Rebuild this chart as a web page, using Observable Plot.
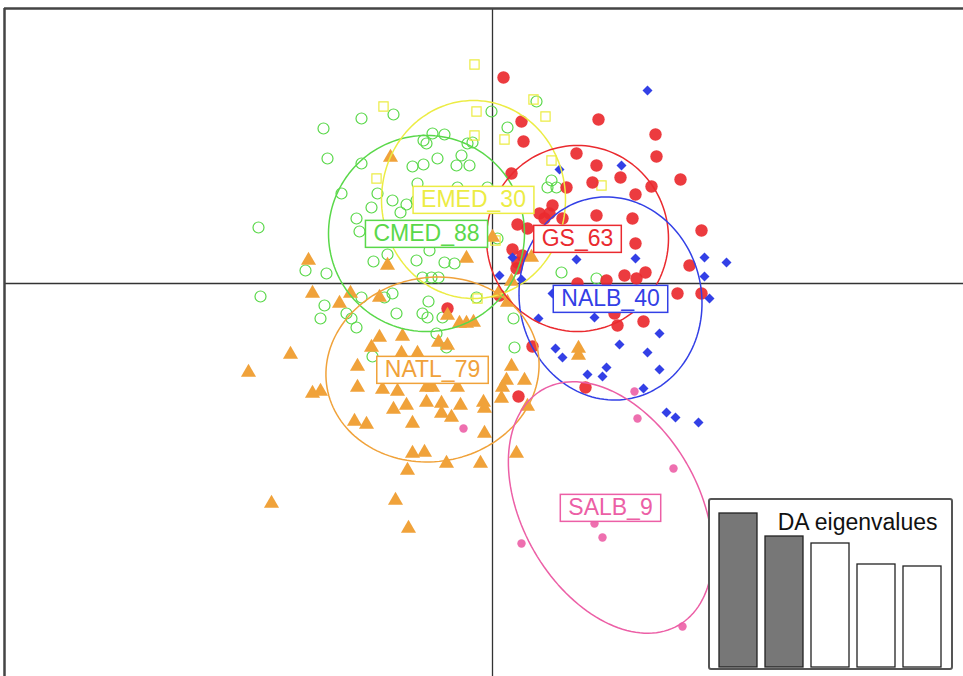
<!DOCTYPE html>
<html><head><meta charset="utf-8">
<script src="https://cdn.jsdelivr.net/npm/d3@7"></script>
<script src="https://cdn.jsdelivr.net/npm/@observablehq/plot@0.6"></script>
<style>
html,body{margin:0;padding:0;background:#fff;}
#wrap{position:relative;width:963px;height:676px;overflow:hidden;font-family:"Liberation Sans",Arial,sans-serif;}
#main svg{display:block;}
#inset{position:absolute;left:708px;top:498px;width:241px;height:168px;border:2px solid #555;border-radius:3px;background:#fff;}
#inset svg{display:block;}
</style></head><body><div id="wrap"><div id="main"></div><div id="inset"></div></div>
<script>
// ---- groups ----
const groups = ["CMED","EMED","GS","NALB","NATL","SALB"];
const groupSizes = [88,30,63,40,79,9];
const groupColors = ["#5ad84a","#ecec44","#ea2a2f","#3340e6","#f0a23a","#ec5fa6"];

// ---- DA scores (LD1, LD2) ----
const cmedX = [-1.31,-0.99,-1.69,-0.01,-1.65,-1.31,-0.69,-0.60,-0.48,-0.66,-0.31,-0.25,-0.20,-0.55,-0.80,-0.69,-0.36,-0.23,-1.51,-1.15,-1.00,-0.92,-0.86,-1.21,-1.36,-1.33,-0.75,-0.35,-0.05,-2.34,-1.87,-1.66,-1.19,-1.05,-0.76,-0.48,-0.38,-0.63,-0.54,-0.70,0.44,0.15,0.59,0.64,0.69,1.04,0.05,-2.32,-1.68,-1.72,-1.46,-1.41,-1.36,-1.31,-1.08,-1.00,-0.96,-0.70,-0.65,-0.64,-0.50,-0.56,-1.20,-0.46,-0.16,-0.76,-0.61,0.21,0.22,0.55];
const cmedY = [1.65,1.69,1.55,1.72,1.25,1.20,1.43,1.50,1.49,1.40,1.28,1.40,1.41,1.25,1.17,1.19,1.18,1.18,0.90,0.90,0.83,0.71,0.79,0.76,0.65,0.52,1.00,0.96,0.96,0.56,0.13,0.10,0.22,0.29,0.23,0.21,0.20,0.33,0.06,0.06,1.82,1.56,1.03,0.96,0.11,0.05,0.45,-0.13,-0.22,-0.35,-0.30,-0.35,-0.44,-0.14,-0.14,-0.10,-0.30,-0.30,-0.34,-0.18,-0.34,-0.50,-0.73,-0.64,-0.14,0.83,0.06,-0.35,-0.64,0.96];
const emedX = [-0.18,-1.09,-0.16,-0.18,-1.16,0.53,0.12,0.59,1.09,0.41,-0.15,0.03,-0.01];
const emedY = [2.19,1.77,1.72,1.48,1.05,1.67,1.44,1.23,0.98,1.84,-0.15,0.43,0.76];
const gsX = [0.11,0.29,1.06,0.31,1.63,0.84,1.64,1.04,0.19,1.28,1.00,1.88,0.74,1.59,1.43,0.60,0.47,0.57,0.70,1.04,1.40,0.25,0.35,2.09,1.43,0.20,0.25,0.30,1.97,1.32,1.44,1.53,0.85,1.14,1.85,2.09,1.51,1.25,0.40,0.93,0.26,1.22,-0.45,0.07,0.24,0.52];
const gsY = [2.06,1.62,1.64,1.42,1.49,1.30,1.27,1.18,1.10,1.06,1.01,1.04,0.96,0.97,0.89,0.78,0.70,0.70,0.65,0.68,0.65,0.59,0.55,0.53,0.40,0.34,0.21,0.28,0.18,0.08,0.05,0.11,0.00,0.03,-0.10,-0.10,-0.38,-0.42,-0.63,-1.04,-1.13,-0.30,-0.25,-0.12,0.15,0.65];
const nalbX = [1.55,0.67,1.29,0.84,1.43,2.12,2.34,2.12,0.07,0.29,2.17,0.46,1.02,1.67,1.27,1.55,0.63,0.70,1.14,0.95,1.10,1.67,1.51,1.74,1.83,2.06,0.60,0.20];
const nalbY = [1.93,1.14,1.18,0.24,0.25,0.26,0.21,0.07,0.08,0.04,-0.15,-0.35,-0.34,-0.50,-0.61,-0.69,-0.65,-0.74,-0.84,-0.91,-0.93,-0.86,-1.05,-1.29,-1.34,-1.39,-0.10,0.26];
const natlX = [-1.02,-1.84,-1.05,-0.26,0.00,-1.80,-1.42,-1.53,-2.02,-2.44,-1.13,-0.90,-1.21,-1.35,-1.35,-0.91,-0.75,-1.80,-1.72,-1.10,-0.95,-0.66,-0.60,-0.35,-0.99,-0.86,-0.66,-0.51,-0.32,-0.09,-0.08,-0.51,-0.41,-1.38,-1.26,-0.80,-0.08,-0.80,-0.68,-0.46,-0.12,-0.85,-2.21,-0.97,-0.84,-0.54,-0.45,-0.33,-0.26,-0.19,0.10,0.09,0.06,-1.13,0.19,0.15,-0.45,0.86,0.86,0.19,0.14,0.32,0.35,0.24,0.39];
const natlY = [1.26,0.23,0.18,0.25,0.46,-0.10,-0.10,-0.20,-0.71,-0.89,-0.54,-0.53,-0.64,-0.83,-1.04,-0.70,-0.70,-1.10,-1.08,-1.06,-1.08,-1.04,-1.04,-1.04,-1.26,-1.22,-1.19,-1.20,-1.22,-1.19,-1.25,-1.30,-1.34,-1.38,-1.41,-1.40,-1.50,-1.70,-1.69,-1.80,-1.80,-1.87,-2.20,-2.17,-2.45,-0.59,-0.62,-0.40,-0.40,-0.39,-1.04,-1.15,-0.10,-0.14,0.02,-0.19,-0.32,-0.65,-0.72,-0.83,-0.97,-0.97,-1.23,-1.70,0.26];
const salbX = [-0.29,1.42,1.45,1.81,1.02,1.10,0.29,1.90,0.99];
const salbY = [-1.45,-1.08,-1.35,-1.85,-2.40,-2.54,-2.60,-3.43,-2.25];

// ---- inertia ellipses (centre, semi-axes, angle in degrees) ----
const ellCx = [-0.66,-0.19,0.85,1.18,-0.60,1.18];
const ellCy = [0.50,0.84,0.45,-0.15,-0.86,-2.24];
const ellA = [0.98,0.99,0.93,1.02,1.07,1.36];
const ellB = [0.98,0.92,0.91,0.91,0.92,0.88];
const ellAngle = [0,90,90,102,10,-60];

// ---- DA eigenvalues ----
const eigValues = [15.4,13.1,12.4,10.3,10.1];
const nRetained = 2;

const xDomain = [-4.88,4.71];
const yDomain = [-3.93,2.75];

const groupXs = [cmedX,emedX,gsX,nalbX,natlX,salbX];
const groupYs = [cmedY,emedY,gsY,nalbY,natlY,salbY];
function pts(i){ const xs=groupXs[i], ys=groupYs[i]; const n=Math.min(xs.length,ys.length); return d3.range(n).map(k=>({x:xs[k],y:ys[k]})); }
function ellipsePts(i){
  const out=[]; const phi=ellAngle[i]*Math.PI/180;
  for(let k=0;k<=144;k++){ const t=2*Math.PI*k/144; const u=ellA[i]*Math.cos(t), v=ellB[i]*Math.sin(t);
    out.push({x:ellCx[i]+u*Math.cos(phi)-v*Math.sin(phi), y:ellCy[i]+u*Math.sin(phi)+v*Math.cos(phi)}); }
  return out;
}
const dotStyles = [
  {symbol:"circle", r:5.5, stroke:groupColors[0], strokeWidth:1.2, fill:"none"},
  {symbol:"square", r:5.2, stroke:groupColors[1], strokeWidth:1.2, fill:"none"},
  {symbol:"circle", r:6.2, fill:groupColors[2], fillOpacity:0.92},
  {symbol:"diamond2", r:4.5, fill:groupColors[3]},
  {symbol:"triangle", r:5.6, fill:groupColors[4]},
  {symbol:"circle", r:4.2, fill:groupColors[5], fillOpacity:0.9}
];

const marks = [
  Plot.ruleX([0], {stroke:"#333", strokeWidth:1.3}),
  Plot.ruleY([0], {stroke:"#333", strokeWidth:1.3}),
  Plot.ruleX([xDomain[0]], {stroke:"#444", strokeWidth:2.5}),
  Plot.ruleY([yDomain[1]], {stroke:"#444", strokeWidth:2.5})
];
groups.forEach((g,i)=>{ marks.push(Plot.dot(pts(i), {x:"x", y:"y", ...dotStyles[i]})); });
groups.forEach((g,i)=>{ marks.push(Plot.line(ellipsePts(i), {x:"x", y:"y", stroke:groupColors[i], strokeWidth:1.5})); });
groups.forEach((g,i)=>{ marks.push(Plot.text([{x:ellCx[i], y:ellCy[i], t:g+"_"+groupSizes[i]}], {x:"x", y:"y", text:"t", fill:groupColors[i], fontSize:23, fontFamily:"Liberation Sans, Arial, sans-serif"})); });

const main = Plot.plot({
  width:963, height:676, marginLeft:4, marginRight:0, marginTop:8, marginBottom:0,
  x:{domain:xDomain, axis:null}, y:{domain:yDomain, axis:null},
  style:{background:"#fff"},
  marks
});
document.getElementById("main").appendChild(main);

// boxes behind group labels
const svgNS="http://www.w3.org/2000/svg";
main.querySelectorAll('g[aria-label="text"]').forEach(g=>{
  g.querySelectorAll("text").forEach(t=>{
    const color = t.getAttribute("fill") || g.getAttribute("fill");
    const bb = t.getBBox();
    const r = document.createElementNS(svgNS,"rect");
    r.setAttribute("x", bb.x-8); r.setAttribute("y", bb.y+0.5);
    r.setAttribute("width", bb.width+16); r.setAttribute("height", bb.height+1);
    r.setAttribute("fill","#fff"); r.setAttribute("stroke", color); r.setAttribute("stroke-width",1.5);
    if (t.getAttribute("transform")) r.setAttribute("transform", t.getAttribute("transform"));
    g.insertBefore(r,t);
  });
});

// eigenvalue inset
const eig = eigValues.map((v,k)=>({k:k+1, v}));
const inset = Plot.plot({
  width:241, height:168, marginLeft:8, marginRight:8, marginTop:0, marginBottom:1,
  x:{type:"band", domain:d3.range(1,eigValues.length+1), paddingInner:0.17, paddingOuter:0, axis:null},
  y:{domain:[0,16.7], axis:null},
  marks:[
    Plot.barY(eig.filter(d=>d.k<=nRetained), {x:"k", y:"v", fill:"#777", stroke:"#222", strokeWidth:1.3}),
    Plot.barY(eig.filter(d=>d.k>nRetained), {x:"k", y:"v", fill:"#fff", stroke:"#222", strokeWidth:1.3}),
    Plot.text(["DA eigenvalues"], {frameAnchor:"top-right", textAnchor:"end", lineAnchor:"middle", dx:-6, dy:22, fontSize:23, fill:"#111", fontFamily:"Liberation Sans, Arial, sans-serif"})
  ]
});
document.getElementById("inset").appendChild(inset);
</script></body></html>
